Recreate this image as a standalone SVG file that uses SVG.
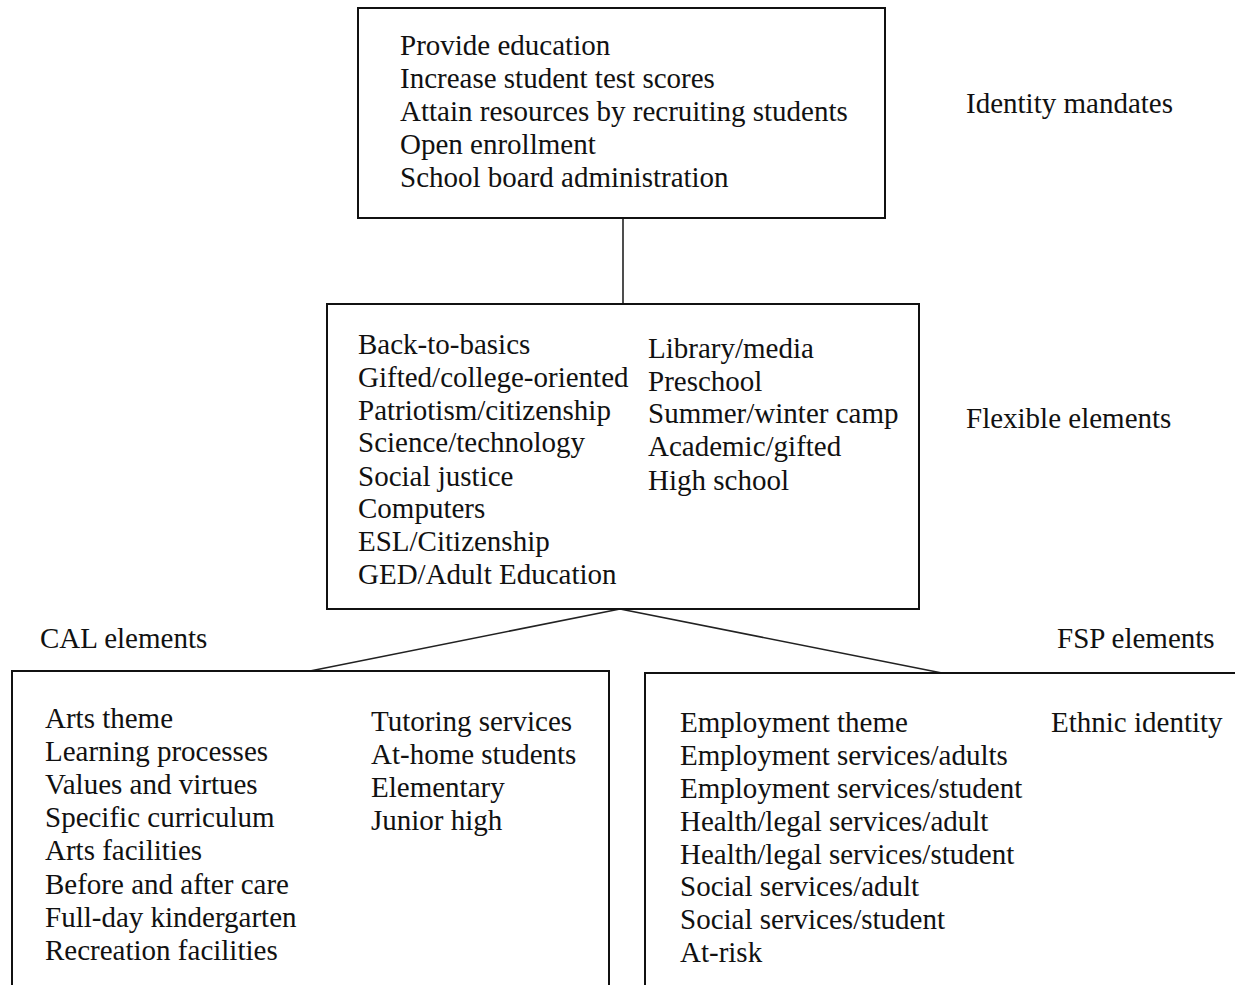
<svg xmlns="http://www.w3.org/2000/svg" width="1235" height="985" viewBox="0 0 1235 985">
<style>
.box{fill:#fff;stroke:#111;stroke-width:2}
.t{font-family:"Liberation Serif","Times New Roman",serif;font-size:29px;fill:#111}
.c{stroke:#222;stroke-width:1.6;fill:none}
</style>
<rect width="1235" height="985" fill="#fff"/>
<g id="connectors">
<line class="c" x1="623" y1="218" x2="623" y2="304"/>
<line class="c" x1="620" y1="609" x2="310" y2="671"/>
<line class="c" x1="620" y1="609" x2="942" y2="673"/>
</g>
<g id="identity">
<rect class="box" x="358" y="8" width="527" height="210"/>
<text class="t" x="400" y="55">Provide education</text>
<text class="t" x="400" y="88">Increase student test scores</text>
<text class="t" x="400" y="121">Attain resources by recruiting students</text>
<text class="t" x="400" y="154">Open enrollment</text>
<text class="t" x="400" y="187">School board administration</text>
</g>
<g id="label-identity"><text class="t" x="966" y="113">Identity mandates</text></g>
<g id="flexible">
<rect class="box" x="327" y="304" width="592" height="305"/>
<text class="t" x="358" y="354">Back-to-basics</text>
<text class="t" x="358" y="387">Gifted/college-oriented</text>
<text class="t" x="358" y="420">Patriotism/citizenship</text>
<text class="t" x="358" y="452">Science/technology</text>
<text class="t" x="358" y="486">Social justice</text>
<text class="t" x="358" y="518">Computers</text>
<text class="t" x="358" y="551">ESL/Citizenship</text>
<text class="t" x="358" y="584">GED/Adult Education</text>
<text class="t" x="648" y="358">Library/media</text>
<text class="t" x="648" y="391">Preschool</text>
<text class="t" x="648" y="423">Summer/winter camp</text>
<text class="t" x="648" y="456">Academic/gifted</text>
<text class="t" x="648" y="490">High school</text>
</g>
<g id="label-flexible"><text class="t" x="966" y="428">Flexible elements</text></g>
<g id="label-cal"><text class="t" x="40" y="648">CAL elements</text></g>
<g id="label-fsp"><text class="t" x="1057" y="648">FSP elements</text></g>
<g id="cal">
<rect class="box" x="12" y="671" width="597" height="330"/>
<text class="t" x="45" y="728">Arts theme</text>
<text class="t" x="45" y="761">Learning processes</text>
<text class="t" x="45" y="794">Values and virtues</text>
<text class="t" x="45" y="827">Specific curriculum</text>
<text class="t" x="45" y="860">Arts facilities</text>
<text class="t" x="45" y="894">Before and after care</text>
<text class="t" x="45" y="927">Full-day kindergarten</text>
<text class="t" x="45" y="960">Recreation facilities</text>
<text class="t" x="371" y="731">Tutoring services</text>
<text class="t" x="371" y="764">At-home students</text>
<text class="t" x="371" y="797">Elementary</text>
<text class="t" x="371" y="830">Junior high</text>
</g>
<g id="fsp">
<rect class="box" x="645" y="673" width="610" height="330"/>
<text class="t" x="680" y="732">Employment theme</text>
<text class="t" x="680" y="765">Employment services/adults</text>
<text class="t" x="680" y="798">Employment services/student</text>
<text class="t" x="680" y="831">Health/legal services/adult</text>
<text class="t" x="680" y="864">Health/legal services/student</text>
<text class="t" x="680" y="896">Social services/adult</text>
<text class="t" x="680" y="929">Social services/student</text>
<text class="t" x="680" y="962">At-risk</text>
<text class="t" x="1051" y="732">Ethnic identity</text>
</g>
</svg>
